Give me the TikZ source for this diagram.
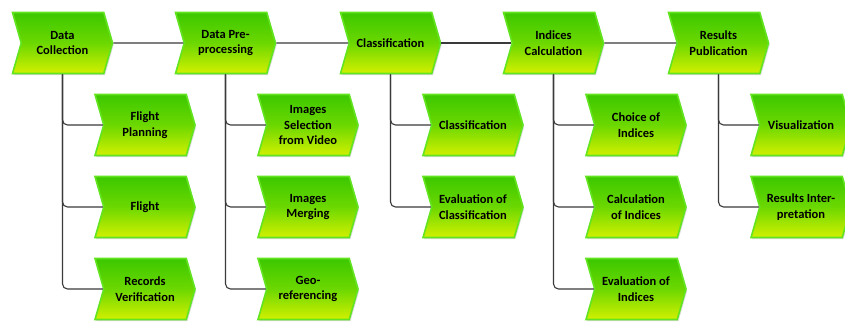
\documentclass[tikz,border=0pt]{standalone}
\usepackage{fontspec}
\setsansfont{Carlito}
\usepackage{xcolor}
\usetikzlibrary{shapes.symbols,shadows}
\definecolor{chevtop}{HTML}{3CC800}
\definecolor{chevmid}{HTML}{6CD800}
\definecolor{chevbot}{HTML}{D2F000}
\definecolor{chevline}{HTML}{62E420}
\definecolor{linkgray}{HTML}{3A3A3A}

\begin{document}
\begin{tikzpicture}[x=1pt, y=-1pt,
  chev/.style={signal, signal from=west, signal to=east, signal pointer angle=148,
    minimum width=100pt, minimum height=61pt, inner sep=0pt, align=center,
    draw=chevline, line width=1.6pt,
    top color=chevtop, bottom color=chevbot, middle color=chevmid,
    font=\sffamily\bfseries\fontsize{12.5}{15.5}\selectfont,
    drop shadow={shadow xshift=1.2pt, shadow yshift=-1.6pt, opacity=0.3}},
  link/.style={draw=linkgray, line width=1.1pt, rounded corners=5pt}]
  \clip (0,0) rectangle (845,322);
  % main steps
  \node[chev] (dc) at (62.5,43)  {Data\\Collection};
  \node[chev] (dp) at (225.5,43) {Data Pre-\\processing};
  \node[chev] (cl) at (390.5,43) {Classification};
  \node[chev] (ic) at (553.5,43) {Indices\\Calculation};
  \node[chev] (rp) at (718.5,43) {Results\\Publication};
  % sub steps
  \node[chev] (dc1) at (145,125) {Flight\\Planning};
  \node[chev] (dc2) at (145,207) {Flight};
  \node[chev] (dc3) at (145,289) {Records\\Verification};
  \node[chev] (dp1) at (308,125) {Images\\Selection\\from Video};
  \node[chev] (dp2) at (308,207) {Images\\Merging};
  \node[chev] (dp3) at (308,289) {Geo-\\referencing};
  \node[chev] (cl1) at (473,125) {Classification};
  \node[chev] (cl2) at (473,207) {Evaluation of\\Classification};
  \node[chev] (ic1) at (636,125) {Choice of\\Indices};
  \node[chev] (ic2) at (636,207) {Calculation\\of Indices};
  \node[chev] (ic3) at (636,289) {Evaluation of\\Indices};
  \node[chev] (rp1) at (801,125) {Visualization};
  \node[chev] (rp2) at (801,207) {Results Inter-\\pretation};
  % connectors
  \foreach \a/\b in {dc/dp,dp/cl,cl/ic,ic/rp}
    \draw[link] (\a) -- (\b);
  \foreach \p/\s in {dc/dc1,dc/dc2,dc/dc3,dp/dp1,dp/dp2,dp/dp3,cl/cl1,cl/cl2,
                     ic/ic1,ic/ic2,ic/ic3,rp/rp1,rp/rp2}
    \draw[link] (\p.south) |- (\s);
\end{tikzpicture}
\end{document}
